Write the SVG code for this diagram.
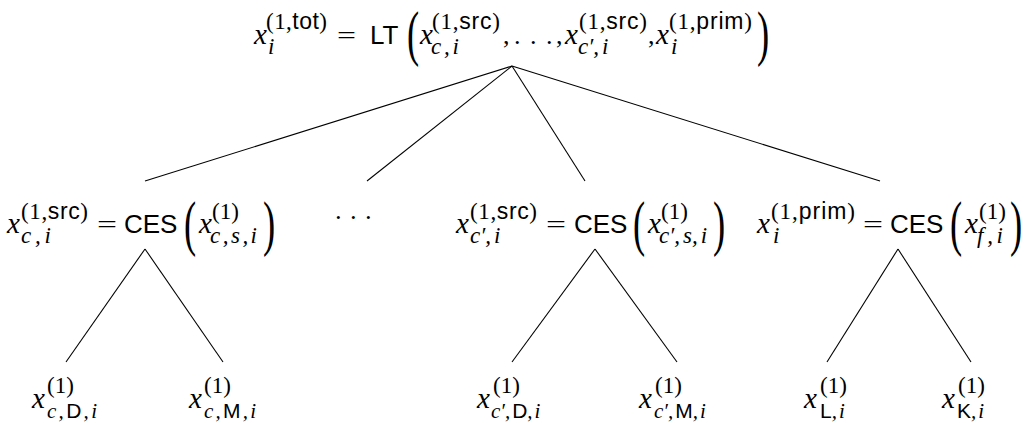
<svg xmlns="http://www.w3.org/2000/svg" width="1032" height="423" viewBox="0 0 1032 423">
<style>
text { fill: #000; }
.m { font-family: "Liberation Serif", serif; font-style: italic; }
.r { font-family: "Liberation Serif", serif; font-style: normal; }
.s { font-family: "Liberation Sans", sans-serif; font-style: normal; }
.b { font-size: 26px; }
.x { font-size: 29px; }
.sc { font-size: 23px; }
.ss { font-size: 21px; }
.p { font-family: "Liberation Serif", serif; font-size: 61px; }
.edge { stroke: #000; stroke-width: 1.1; fill: none; }
</style>
<rect width="1032" height="423" fill="#fff"/>
<g id="connectors">
  <line class="edge" x1="512" y1="66" x2="145" y2="181"/>
  <line class="edge" x1="512" y1="66" x2="367" y2="181"/>
  <line class="edge" x1="512" y1="66" x2="585" y2="181"/>
  <line class="edge" x1="512" y1="66" x2="880" y2="181"/>
  <line class="edge" x1="145" y1="249" x2="66" y2="362"/>
  <line class="edge" x1="145" y1="249" x2="223" y2="362"/>
  <line class="edge" x1="595" y1="249" x2="512" y2="362"/>
  <line class="edge" x1="595" y1="249" x2="677" y2="362"/>
  <line class="edge" x1="898" y1="249" x2="827" y2="362"/>
  <line class="edge" x1="898" y1="249" x2="971" y2="362"/>
</g>
<g id="root">
  <text class="m x" x="254" y="44">x</text>
  <text class="r sc" x="266" y="29" textLength="61" lengthAdjust="spacing">(1,<tspan class="s">tot</tspan>)</text>
  <text class="m sc" x="268" y="54">i</text>
  <text class="r b" x="337" y="44" textLength="19" lengthAdjust="spacingAndGlyphs">=</text>
  <text class="s b" x="370" y="44">LT</text>
  <text class="p" transform="translate(407,54) scale(0.6,1)">(</text>
  <text class="m x" x="420" y="44">x</text>
  <text class="r sc" x="432" y="29" textLength="68" lengthAdjust="spacing">(1,<tspan class="s">src</tspan>)</text>
  <text class="m sc" x="431" y="54" textLength="28" lengthAdjust="spacing">c,i</text>
  <text class="r b" x="503" y="44">,</text>
  <text class="r b" x="514 530 546" y="44">...</text>
  <text class="r b" x="556" y="44">,</text>
  <text class="m x" x="565" y="44">x</text>
  <text class="r sc" x="579" y="29" textLength="68" lengthAdjust="spacing">(1,<tspan class="s">src</tspan>)</text>
  <text class="m sc" x="578" y="54">c′,<tspan dx="3">i</tspan></text>
  <text class="r b" x="648" y="44">,</text>
  <text class="m x" x="656" y="44">x</text>
  <text class="r sc" x="669" y="29" textLength="83" lengthAdjust="spacing">(1,<tspan class="s">prim</tspan>)</text>
  <text class="m sc" x="671" y="54">i</text>
  <text class="p" transform="translate(757,54) scale(0.6,1)">)</text>
</g>
<g id="src-c">
  <text class="m x" x="7" y="233">x</text>
  <text class="r sc" x="21" y="219" textLength="67" lengthAdjust="spacing">(1,<tspan class="s">src</tspan>)</text>
  <text class="m sc" x="21" y="243" textLength="30" lengthAdjust="spacing">c,i</text>
  <text class="r b" x="97" y="233" textLength="20" lengthAdjust="spacingAndGlyphs">=</text>
  <text class="s b" x="124" y="233">CES</text>
  <text class="p" transform="translate(184,244) scale(0.6,1)">(</text>
  <text class="m x" x="199" y="233">x</text>
  <text class="r sc" x="212" y="219">(1)</text>
  <text class="m sc" x="210" y="243" textLength="47" lengthAdjust="spacing">c,s,i</text>
  <text class="p" transform="translate(263,244) scale(0.6,1)">)</text>
</g>
<g id="dots">
  <text class="r b" x="334 349 364" y="226">···</text>
</g>
<g id="src-cprime">
  <text class="m x" x="456" y="233">x</text>
  <text class="r sc" x="470" y="219" textLength="67" lengthAdjust="spacing">(1,<tspan class="s">src</tspan>)</text>
  <text class="m sc" x="470" y="243">c′,<tspan dx="3">i</tspan></text>
  <text class="r b" x="546" y="233" textLength="20" lengthAdjust="spacingAndGlyphs">=</text>
  <text class="s b" x="574" y="233">CES</text>
  <text class="p" transform="translate(633,244) scale(0.6,1)">(</text>
  <text class="m x" x="648" y="233">x</text>
  <text class="r sc" x="661" y="219">(1)</text>
  <text class="m sc" x="659" y="243">c′,<tspan dx="3">s,</tspan><tspan dx="3">i</tspan></text>
  <text class="p" transform="translate(713,244) scale(0.6,1)">)</text>
</g>
<g id="prim">
  <text class="m x" x="757" y="233">x</text>
  <text class="r sc" x="771" y="219" textLength="84" lengthAdjust="spacing">(1,<tspan class="s">prim</tspan>)</text>
  <text class="m sc" x="773" y="243">i</text>
  <text class="r b" x="863" y="233" textLength="20" lengthAdjust="spacingAndGlyphs">=</text>
  <text class="s b" x="890" y="233">CES</text>
  <text class="p" transform="translate(950,244) scale(0.6,1)">(</text>
  <text class="m x" x="965" y="233">x</text>
  <text class="r sc" x="979" y="219">(1)</text>
  <text class="m sc" x="977" y="243" textLength="26" lengthAdjust="spacing">f,i</text>
  <text class="p" transform="translate(1010,244) scale(0.6,1)">)</text>
</g>
<g id="leaf-cD">
  <text class="m x" x="32" y="408">x</text>
  <text class="r sc" x="47" y="393">(1)</text>
  <text class="m ss" x="47" y="418" textLength="50" lengthAdjust="spacing">c,<tspan class="s">D</tspan>,i</text>
</g>
<g id="leaf-cM">
  <text class="m x" x="189" y="408">x</text>
  <text class="r sc" x="204" y="393">(1)</text>
  <text class="m ss" x="204" y="418" textLength="52" lengthAdjust="spacing">c,<tspan class="s">M</tspan>,i</text>
</g>
<g id="leaf-cpD">
  <text class="m x" x="477" y="408">x</text>
  <text class="r sc" x="493" y="393">(1)</text>
  <text class="m ss" x="491" y="418">c′,<tspan class="s" dx="2">D</tspan>,<tspan dx="2">i</tspan></text>
</g>
<g id="leaf-cpM">
  <text class="m x" x="639" y="408">x</text>
  <text class="r sc" x="655" y="393">(1)</text>
  <text class="m ss" x="654" y="418">c′,<tspan class="s" dx="2">M</tspan>,<tspan dx="2">i</tspan></text>
</g>
<g id="leaf-L">
  <text class="m x" x="804" y="408">x</text>
  <text class="r sc" x="820" y="393">(1)</text>
  <text class="m ss" x="820" y="418"><tspan class="s">L</tspan>,<tspan dx="2">i</tspan></text>
</g>
<g id="leaf-K">
  <text class="m x" x="942" y="408">x</text>
  <text class="r sc" x="958" y="393">(1)</text>
  <text class="m ss" x="957" y="418"><tspan class="s">K</tspan>,<tspan dx="2">i</tspan></text>
</g>
</svg>
